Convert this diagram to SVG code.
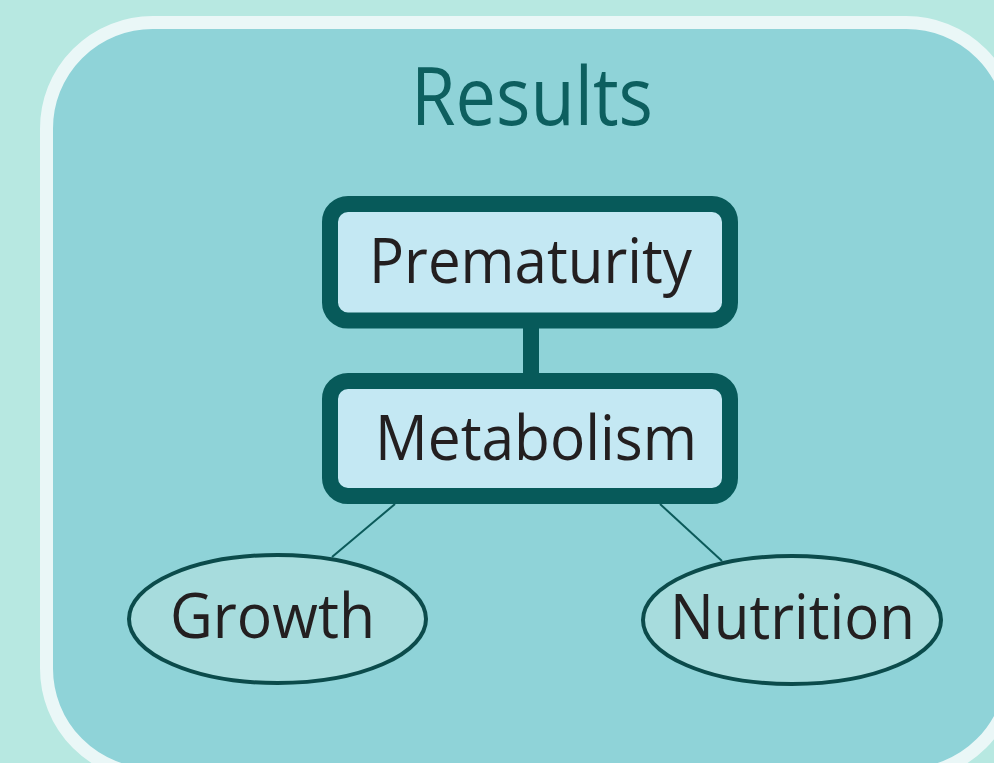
<svg xmlns="http://www.w3.org/2000/svg" width="994" height="763" viewBox="0 0 994 763">
<style>
.lbl{font-family:"Open Sans","Noto Sans","Liberation Sans",sans-serif;fill:#231f20;text-anchor:middle;font-size:63px}
.box{fill:#c4e8f3;stroke:#075a5a;stroke-width:16}
.oval{fill:#a7dcdd;stroke:#0b4b4b;stroke-width:4}
.thin{stroke:#0b5a5a;stroke-width:2;fill:none}
</style>
<rect x="0" y="0" width="994" height="763" fill="#b7e8e1"/>
<rect id="frame" x="46.5" y="22.5" width="966" height="752" rx="106" ry="106" fill="#8fd3d8" stroke="#eaf7f7" stroke-width="13"/>
<text id="title" x="532" y="125" font-family="'Open Sans','Noto Sans','Liberation Sans',sans-serif" font-size="81" fill="#0d5f5f" text-anchor="middle" textLength="242" lengthAdjust="spacingAndGlyphs">Results</text>
<g id="connectors">
<line x1="531" y1="320" x2="531" y2="381" stroke="#075a5a" stroke-width="16"/>
<line class="thin" x1="395" y1="504" x2="332" y2="557"/>
<line class="thin" x1="660" y1="504" x2="722" y2="561"/>
</g>
<g id="prematurity">
<rect class="box" x="330" y="204" width="400" height="116.5" rx="18"/>
<text class="lbl" x="530.5" y="283" textLength="323" lengthAdjust="spacingAndGlyphs">Prematurity</text>
</g>
<g id="metabolism">
<rect class="box" x="330" y="381" width="400" height="115" rx="18"/>
<text class="lbl" x="536" y="460" textLength="322" lengthAdjust="spacingAndGlyphs">Metabolism</text>
</g>
<g id="growth">
<ellipse class="oval" cx="277.5" cy="619" rx="148.5" ry="64"/>
<text class="lbl" x="272.5" y="638" textLength="205" lengthAdjust="spacingAndGlyphs">Growth</text>
</g>
<g id="nutrition">
<ellipse class="oval" cx="792" cy="620" rx="149" ry="64"/>
<text class="lbl" x="792.5" y="639" textLength="245" lengthAdjust="spacingAndGlyphs">Nutrition</text>
</g>
</svg>
